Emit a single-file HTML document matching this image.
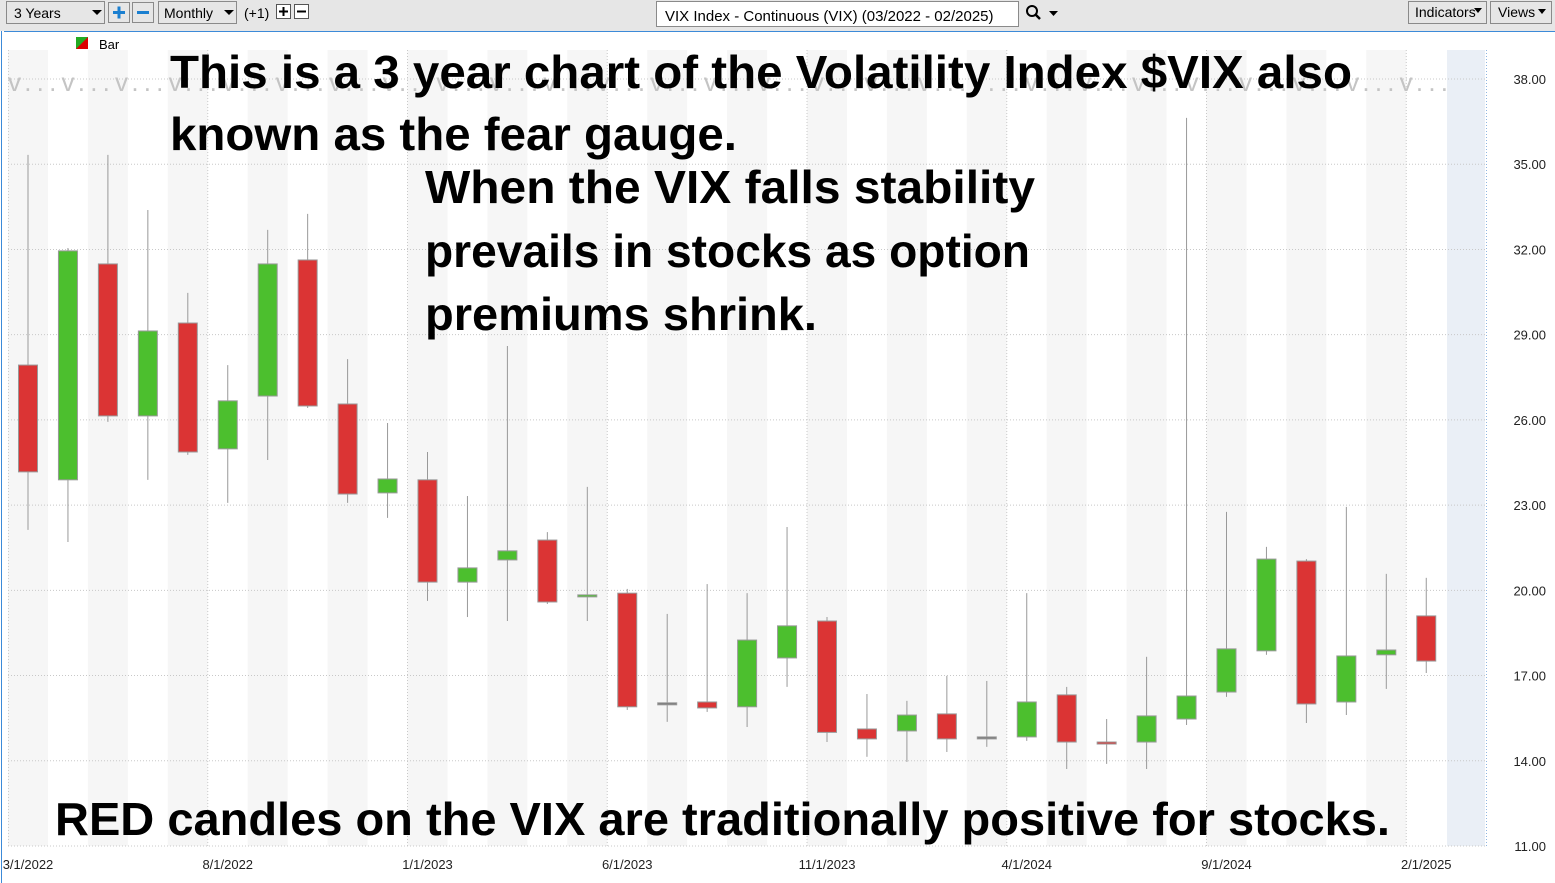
<!DOCTYPE html>
<html><head><meta charset="utf-8"><style>
body{margin:0;width:1555px;height:883px;overflow:hidden;background:#fff;font-family:"Liberation Sans",sans-serif}
svg{display:block}
</style></head><body>
<svg id="chart" width="1555" height="883" xmlns="http://www.w3.org/2000/svg">
<rect x="0" y="0" width="1555" height="31" fill="#e6e6e6"/>
<line x1="4" y1="31.5" x2="1555" y2="31.5" stroke="#3c8ad8"/>
<line x1="1.5" y1="31" x2="1.5" y2="883" stroke="#3c8ad8"/>
<g><rect x="6.5" y="1.5" width="98" height="22" fill="#e6e6e6" stroke="#8a8a8a"/><text x="14" y="18" font-size="14">3 Years</text><path d="M92 10 L102 10 L97 15Z" fill="#000"/></g>
<g><rect x="108.5" y="2.5" width="21" height="20" fill="#e6e6e6" stroke="#8a8a8a"/><path d="M113 12.5h12M119 6.5v12" stroke="#1a7fd0" stroke-width="3"/></g>
<g><rect x="132.5" y="2.5" width="21" height="20" fill="#e6e6e6" stroke="#8a8a8a"/><path d="M137 12.5h12" stroke="#1a7fd0" stroke-width="3"/></g>
<g><rect x="158.5" y="1.5" width="78" height="22" fill="#e6e6e6" stroke="#8a8a8a"/><text x="164" y="18" font-size="14">Monthly</text><path d="M224 10 L234 10 L229 15Z" fill="#000"/></g>
<text x="244" y="18" font-size="14">(+1)</text>
<g><rect x="276.5" y="4.5" width="14" height="14" fill="#fff" stroke="#555"/><path d="M279 11.5h9M283.5 7v9" stroke="#000" stroke-width="2"/></g>
<g><rect x="294.5" y="4.5" width="14" height="14" fill="#fff" stroke="#555"/><path d="M297 11.5h9" stroke="#000" stroke-width="2"/></g>
<g><rect x="656.5" y="1.5" width="362" height="25" fill="#fff" stroke="#8a8a8a"/><text x="665" y="21" font-size="15">VIX Index - Continuous (VIX) (03/2022 - 02/2025)</text></g>
<g><circle cx="1032" cy="11" r="5" fill="none" stroke="#000" stroke-width="2"/><path d="M1035 14l5 5" stroke="#000" stroke-width="2.5"/><path d="M1049 11h9l-4.5 5z" fill="#000"/></g>
<g><rect x="1408.5" y="1.5" width="78" height="22" fill="#e6e6e6" stroke="#8a8a8a"/><text x="1415" y="17" font-size="14">Indicators</text><path d="M1474 8h8l-4 5z" fill="#000"/></g>
<g><rect x="1490.5" y="1.5" width="61" height="22" fill="#e6e6e6" stroke="#8a8a8a"/><text x="1498" y="17" font-size="14">Views</text><path d="M1538 9h8l-4 5z" fill="#000"/></g>
<g id="bands"></g>
<rect x="1447" y="50" width="38" height="796" fill="#eaeff6"/>
<line x1="1486.5" y1="50" x2="1486.5" y2="846" stroke="#8fb5e0" stroke-dasharray="1,2"/>
<line x1="8.5" y1="50" x2="8.5" y2="846" stroke="#ccc" stroke-dasharray="1,2"/>
<g id="grid"></g>
<text x="8" y="91" font-size="26" fill="#c4c4c4" textLength="1440" lengthAdjust="spacing">v...v...v...v...v...v...v...v...v...v...v...v...v...v...v...v...v...v...v...v...v...v...v...v...v...v...v...</text>
<g id="candles"></g>
<g id="yticks"></g>
<g id="xticks"></g>
<g><path d="M76 37h12v12h-12z" fill="#d00"/><path d="M76 37h12l-12 12z" fill="#2a2"/><text x="99" y="49" font-size="13">Bar</text></g>
<g font-weight="bold" font-family="'Liberation Sans',sans-serif" fill="#000">
<text x="170" y="88" font-size="46" textLength="1182" lengthAdjust="spacingAndGlyphs">This is a 3 year chart of the Volatility Index $VIX also</text>
<text x="170" y="150" font-size="46" textLength="567" lengthAdjust="spacingAndGlyphs">known as the fear gauge.</text>
<text x="425" y="203" font-size="46" textLength="610" lengthAdjust="spacingAndGlyphs">When the VIX falls stability</text>
<text x="425" y="267" font-size="46" textLength="605" lengthAdjust="spacingAndGlyphs">prevails in stocks as option</text>
<text x="425" y="330" font-size="46" textLength="392" lengthAdjust="spacingAndGlyphs">premiums shrink.</text>
<text x="55" y="835" font-size="46" textLength="1335" lengthAdjust="spacingAndGlyphs">RED candles on the VIX are traditionally positive for stocks.</text>
</g>
</svg>
<script>
const months=["3/22","4/22","5/22","6/22","7/22","8/22","9/22","10/22","11/22","12/22","1/23","2/23","3/23","4/23","5/23","6/23","7/23","8/23","9/23","10/23","11/23","12/23","1/24","2/24","3/24","4/24","5/24","6/24","7/24","8/24","9/24","10/24","11/24","12/24","1/25","2/25"];
const opens=[27.93,23.89,31.49,26.14,29.41,24.98,26.84,31.63,26.56,23.43,23.89,20.29,21.07,21.77,19.77,19.90,16.04,16.07,15.90,17.62,18.92,15.12,15.05,15.65,14.84,14.84,16.32,14.66,14.66,15.47,16.42,17.87,21.03,16.07,17.73,19.10];
const closes=[24.17,31.95,26.14,29.13,24.87,26.67,31.49,26.49,23.39,23.92,20.29,20.79,21.39,19.59,19.84,15.90,16.04,15.86,18.25,18.75,15.00,14.77,15.61,14.77,14.84,16.07,14.66,14.59,15.58,16.28,17.94,21.10,16.00,17.69,17.90,17.51];
const highs=[35.33,32.05,35.33,33.39,30.47,27.93,32.69,33.25,28.14,25.89,24.87,23.32,28.60,22.05,23.64,20.05,19.17,20.22,19.90,22.23,19.06,16.35,16.11,16.99,16.81,19.90,16.60,15.47,17.66,36.63,22.76,21.53,21.10,22.94,20.58,20.44];
const lows=[22.13,21.70,25.93,23.89,24.77,23.08,24.59,26.42,23.08,22.55,19.63,19.06,18.92,19.52,18.92,15.79,15.37,15.72,15.19,16.60,14.66,14.14,13.96,14.31,14.49,14.70,13.71,13.89,13.71,15.26,16.25,17.73,15.33,15.61,16.53,17.09];
const yTicks=[11,14,17,20,23,26,29,32,35,38];
const xLabels=["3/1/2022","8/1/2022","1/1/2023","6/1/2023","11/1/2023","4/1/2024","9/1/2024","2/1/2025"];
const xLabelIdx=[0,5,10,15,20,25,30,35];
const NS="http://www.w3.org/2000/svg";
const y=v=>846-(v-11)*(767/27);
const x=i=>28+i*39.95;
function mk(t,a,p){const e=document.createElementNS(NS,t);for(const k in a)e.setAttribute(k,a[k]);document.getElementById(p).appendChild(e);return e;}
for(let i=0;i<36;i+=2){
 const b=mk('rect',{x:x(i)-20,y:50,width:39.95,height:796,fill:'#f6f6f6'},'bands');
 
 
}
yTicks.forEach(v=>{
 const l=mk('line',{x1:8,x2:1485,y1:y(v),y2:y(v),stroke:'#c8c8c8','stroke-dasharray':'1,2'},'grid');
 
 
 const t=mk('text',{x:1546,y:y(v)+5,'font-size':13,'text-anchor':'end',fill:'#222'},'yticks');
 t.textContent=v.toFixed(2);
 
 
});
xLabelIdx.forEach((idx,k)=>{
 if(idx>0){
 const l=mk('line',{x1:x(idx)-20,x2:x(idx)-20,y1:50,y2:846,stroke:'#c8c8c8','stroke-dasharray':'1,2'},'grid');
 
 
 }
 const t=mk('text',{x:x(idx),y:869,'font-size':13,'text-anchor':'middle',fill:'#222'},'xticks');
 t.textContent=xLabels[k];
 
 
});
months.forEach((m,i)=>{
 const o=opens[i],c=closes[i];
 const col=Math.abs(o-c)<0.05?'#777':(c>o?'#4cbf2e':'#db3434');
 const g=mk('g',{},'candles');
 
 
 const w=document.createElementNS(NS,'line');
 w.setAttribute('x1',x(i));w.setAttribute('x2',x(i));w.setAttribute('y1',y(highs[i]));w.setAttribute('y2',y(lows[i]));w.setAttribute('stroke','#999');
 g.appendChild(w);
 const top=y(Math.max(o,c)),bot=y(Math.min(o,c));
 const r=document.createElementNS(NS,'rect');
 r.setAttribute('x',x(i)-9.5);r.setAttribute('width',19);r.setAttribute('y',top);r.setAttribute('height',Math.max(2,bot-top));
 r.setAttribute('fill',col);r.setAttribute('stroke','#999');r.setAttribute('stroke-width',1);
 g.appendChild(r);
});
</script>
</body></html>
